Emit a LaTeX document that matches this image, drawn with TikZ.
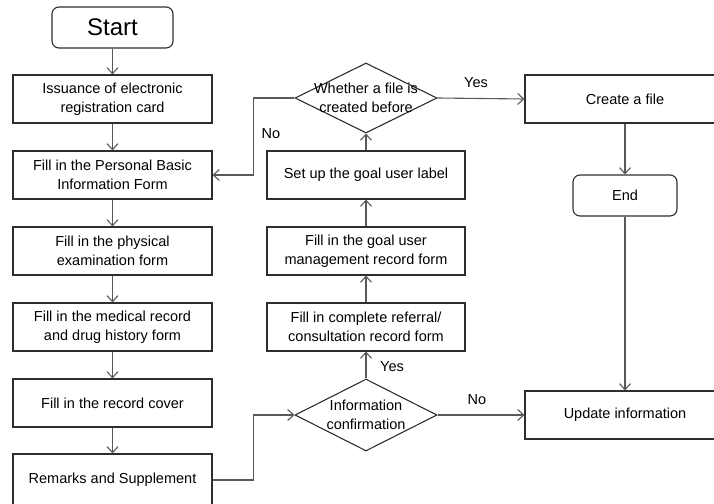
\documentclass[tikz,border=0pt]{standalone}
\usepackage{fontspec}
\setmainfont{Liberation Sans}
\usetikzlibrary{arrows.meta,shapes.geometric}

\definecolor{trait}{HTML}{2E2E2E}
\definecolor{fil}{HTML}{595959}

\tikzset{
	boite/.style={draw=trait, line width=1.1pt, minimum width=199pt, minimum height=48pt,
		align=center, inner sep=2pt, font=\fontsize{14.5}{19}\selectfont},
	terminal/.style={boite, rounded corners=7pt},
	losange/.style={diamond, draw=trait, line width=1.1pt, minimum width=142pt,
		minimum height=70pt, inner sep=0pt},
	fleche/.style={draw=fil, line width=1.1pt, -{Straight Barb[length=6pt,width=11pt]}},
	etiq/.style={font=\fontsize{14.5}{19}\selectfont, inner sep=1pt},
}

\begin{document}
\begin{tikzpicture}[x=1pt,y=-1pt]
	\useasboundingbox (0,0) rectangle (714,503);
	\clip (0,0) rectangle (714,503);

	% colonne gauche
	\node [terminal, minimum width=121pt, minimum height=41pt, font=\fontsize{24}{28}\selectfont] (start) at (112.5,27.5) {Start};
	\node [boite] (carte) at (112.5,99) {Issuance of electronic\\registration card};
	\node [boite] (perso) at (112.5,175) {Fill in the Personal Basic\\Information Form};
	\node [boite] (examen) at (112.5,251) {Fill in the physical\\examination form};
	\node [boite] (medical) at (112.5,327) {Fill in the medical record\\and drug history form};
	\node [boite] (couv) at (112.5,403) {Fill in the record cover};
	\node [boite, minimum height=52pt] (remarq) at (112.5,480) {Remarks and Supplement};

	% colonne milieu
	\node [losange, label={[etiq, align=center]center:Whether a file is\\created before}] (dossier) at (366,98) {};
	\node [boite, minimum width=198pt] (label) at (366,175) {Set up the goal user label};
	\node [boite, minimum width=198pt] (gestion) at (366,251) {Fill in the goal user\\management record form};
	\node [boite, minimum width=198pt] (transfert) at (366,327) {Fill in complete referral/\\consultation record form};
	\node [losange, minimum height=72pt, label={[etiq, align=center]center:Information\\confirmation}] (confirm) at (366,415) {};

	% colonne droite
	\node [boite, minimum width=200pt] (creer) at (625,99) {Create a file};
	\node [terminal, minimum width=104pt, minimum height=41pt] (fin) at (625,195.5) {End};
	\node [boite, minimum width=200pt] (maj) at (625,415) {Update information};

	% fleches
	\draw [fleche] (start) -- (carte);
	\draw [fleche] (carte) -- (perso);
	\draw [fleche] (perso) -- (examen);
	\draw [fleche] (examen) -- (medical);
	\draw [fleche] (medical) -- (couv);
	\draw [fleche] (couv) -- (remarq);

	\draw [fleche] (remarq.east) -- ++(41,0) |- (confirm.west);
	\draw [fleche] (confirm.north) -- (transfert.south);
	\draw [fleche] (confirm.east) -- (maj.west);
	\draw [fleche] (transfert) -- (gestion);
	\draw [fleche] (gestion) -- (label);
	\draw [fleche] (label.north) -- (dossier.south);
	\draw [fleche] (dossier.west) -- ++(-41,0) |- (perso.east);
	\draw [fleche] (dossier.east) -- (creer.west);
	\draw [fleche] (creer) -- (fin);
	\draw [fleche] (fin) -- (maj);

	% oui / non
	\node [etiq] (oui1) at (476,83) {Yes};
	\node [etiq] (non1) at (271,134) {No};
	\node [etiq] (oui2) at (392,367) {Yes};
	\node [etiq] (non2) at (477,400) {No};
\end{tikzpicture}
\end{document}
